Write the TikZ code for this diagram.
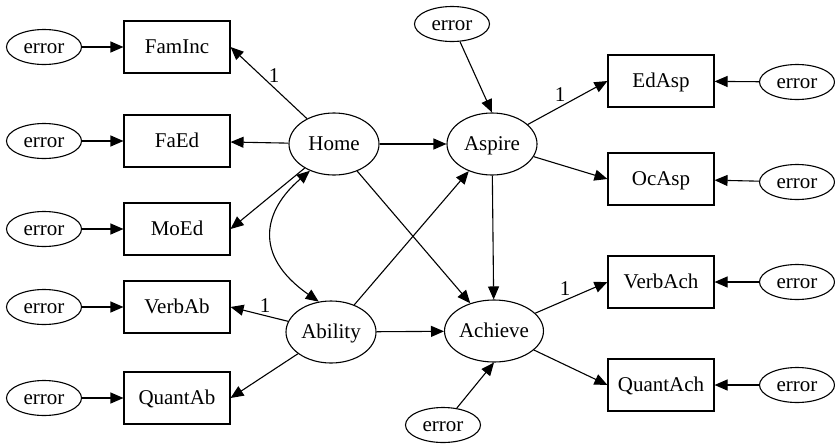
\documentclass[tikz,border=0pt]{standalone}
\usepackage{fontspec}
\setmainfont{Liberation Serif}
\usetikzlibrary{arrows.meta,shapes.geometric}

\begin{document}
\begin{tikzpicture}[x=1pt,y=-1pt,
    every node/.style={font=\rmfamily\fontsize{21}{24}\selectfont,text height=15pt,text depth=2pt},
    latent/.style={draw,ellipse,line width=1.1pt,minimum width=90pt,minimum height=62pt,inner sep=0pt},
    err/.style={draw,ellipse,line width=1.1pt,minimum width=75pt,minimum height=35pt,inner sep=0pt},
    obs/.style={draw,rectangle,line width=1.1pt,minimum width=106pt,minimum height=52pt,inner sep=0pt},
    arr/.style={-{Triangle[length=13pt,width=11pt]},line width=1.1pt}]
            \useasboundingbox (0,0) rectangle (835,445);

            % latent variables
            \node[latent] (Home) at (334,144) {Home};
            \node[latent] (Ability) at (331,332) {Ability};
            \node[latent] (Aspire) at (492,144) {Aspire};
            \node[latent] (Achieve) at (494,331) {Achieve};

            % observed variables
            \node[obs] (FamInc) at (177,47) {FamInc};
            \node[obs] (FaEd) at (177,141) {FaEd};
            \node[obs] (MoEd) at (177,229) {MoEd};
            \node[obs] (VerbAb) at (177,307) {VerbAb};
            \node[obs] (QuantAb) at (177,398) {QuantAb};
            \node[obs] (EdAsp) at (661,81) {EdAsp};
            \node[obs] (OcAsp) at (661,179) {OcAsp};
            \node[obs] (VerbAch) at (661,282) {VerbAch};
            \node[obs] (QuantAch) at (661,385) {QuantAch};

            % error terms
            \node[err] (eFamInc) at (44,47) {error};
            \node[err] (eFaEd) at (44,141) {error};
            \node[err] (eMoEd) at (44,229) {error};
            \node[err] (eVerbAb) at (44,307) {error};
            \node[err] (eQuantAb) at (44,398) {error};
            \node[err] (eEdAsp) at (797,82) {error};
            \node[err] (eOcAsp) at (797,182) {error};
            \node[err] (eVerbAch) at (797,282) {error};
            \node[err] (eQuantAch) at (797,385) {error};
            \node[err] (eAspire) at (452,24) {error};
            \node[err] (eAchieve) at (443,425) {error};

            \draw[arr] (eFamInc) -- (FamInc);
            \draw[arr] (eFaEd) -- (FaEd);
            \draw[arr] (eMoEd) -- (MoEd);
            \draw[arr] (eVerbAb) -- (VerbAb);
            \draw[arr] (eQuantAb) -- (QuantAb);
            \draw[arr] (eEdAsp) -- (EdAsp);
            \draw[arr] (eOcAsp) -- (OcAsp);
            \draw[arr] (eVerbAch) -- (VerbAch);
            \draw[arr] (eQuantAch) -- (QuantAch);
            \draw[arr] (eAspire) -- (Aspire.north);
            \draw[arr] (eAchieve) -- (Achieve.south);

            \draw[arr] (Home) -- (FamInc.east);
            \draw[arr] (Home) -- (FaEd);
            \draw[arr] (Home) -- (MoEd.east);
            \draw[arr] (Ability) -- (VerbAb.east);
            \draw[arr] (Ability) -- (QuantAb.east);
            \draw[arr] (Aspire) -- (EdAsp.west);
            \draw[arr] (Aspire) -- (OcAsp.west);
            \draw[arr] (Achieve) -- (VerbAch.west);
            \draw[arr] (Achieve) -- (QuantAch.west);

            \draw[arr] (Home) -- (Aspire);
            \draw[arr] (Home) -- (Achieve);
            \draw[arr] (Ability) -- (Aspire);
            \draw[arr] (Ability) -- (Achieve);
            \draw[arr] (Aspire) -- (Achieve);

            % correlation
            \draw[arr,{Triangle[length=13pt,width=11pt]}-{Triangle[length=13pt,width=11pt]}]
                (Home.228) .. controls (264,210) and (252,255) .. (Ability.112);

            \node (lFamInc) at (274,76) {1};
            \node (lVerbAb) at (265,306) {1};
            \node (lEdAsp) at (560,95) {1};
            \node (lVerbAch) at (565,289) {1};
        \end{tikzpicture}
\end{document}
